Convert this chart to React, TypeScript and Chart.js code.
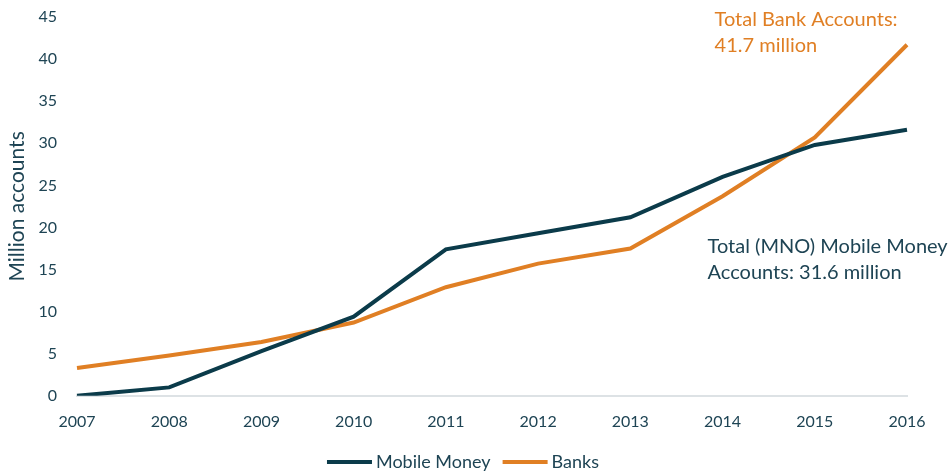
import React, { useEffect, useRef } from "react";
import { Chart, registerables } from "chart.js";

Chart.register(...registerables);

const years = ["2007", "2008", "2009", "2010", "2011", "2012", "2013", "2014", "2015", "2016"];
const mobileMoney = [0, 1.0, 5.3, 9.4, 17.4, 19.3, 21.2, 26.0, 29.8, 31.6];
const banks = [3.3, 4.8, 6.4, 8.7, 12.9, 15.7, 17.5, 23.7, 30.7, 41.7];
const bankNote = ["Total Bank Accounts:", "41.7 million"];
const mobileNote = ["Total (MNO) Mobile Money", "Accounts: 31.6 million"];

const TEAL = "#0B3B4A";
const ORANGE = "#E07F24";
const TEXT = "#1E4454";
const FONT = "Lato, 'Open Sans', sans-serif";

const notesPlugin = {
  id: "notes",
  afterDatasetsDraw(chart: any) {
    const { ctx, scales } = chart;
    const xs = scales.x;
    const ys = scales.y;
    ctx.save();
    ctx.font = `20px ${FONT}`;
    ctx.textAlign = "left";
    ctx.textBaseline = "middle";
    const bx = xs.getPixelForValue(7) - 8;
    const by = ys.getPixelForValue(45) + 3;
    ctx.fillStyle = ORANGE;
    bankNote.forEach((t, i) => ctx.fillText(t, bx, by + i * 26));
    const mx = xs.getPixelForValue(7) - 15;
    const my = ys.getPixelForValue(17.7);
    ctx.fillStyle = TEXT;
    mobileNote.forEach((t, i) => ctx.fillText(t, mx, my + i * 26));

    // custom legend
    ctx.font = `18px ${FONT}`;
    const items = chart.data.datasets.map((d: any) => ({ label: d.label, color: d.borderColor }));
    const boxW = 45;
    const gapText = 4;
    const gapItem = 12;
    const widths = items.map((it: any) => boxW + gapText + ctx.measureText(it.label).width);
    const total = widths.reduce((a: number, b: number) => a + b, 0) + gapItem * (items.length - 1);
    let x = chart.width / 2 - 12 - total / 2;
    const y = chart.height - 10;
    items.forEach((it: any, i: number) => {
      ctx.fillStyle = it.color;
      ctx.fillRect(x, y - 2, boxW, 4);
      ctx.fillStyle = TEXT;
      ctx.fillText(it.label, x + boxW + gapText, y);
      x += widths[i] + gapItem;
    });
    ctx.restore();
  },
};

export default function App() {
  const ref = useRef<HTMLCanvasElement | null>(null);
  useEffect(() => {
    document.body.style.margin = "0";
    const chart = new Chart(ref.current!, {
      type: "line",
      data: {
        labels: years,
        datasets: [
          {
            label: "Mobile Money",
            data: mobileMoney,
            borderColor: TEAL,
            backgroundColor: TEAL,
            borderWidth: 4,
            pointRadius: 0,
            tension: 0,
          },
          {
            label: "Banks",
            data: banks,
            borderColor: ORANGE,
            backgroundColor: ORANGE,
            borderWidth: 4,
            pointRadius: 0,
            tension: 0,
          },
        ],
      },
      options: {
        animation: false,
        responsive: false,
        maintainAspectRatio: false,
        layout: { padding: { top: 17, right: 43, bottom: 25, left: 0 } },
        plugins: {
          tooltip: { enabled: false },
          legend: { display: false },
        },
        scales: {
          x: {
            offset: false,
            grid: { display: false, drawTicks: false },
            border: { display: true, color: "#DDE2E5", width: 2 },
            ticks: { color: TEXT, font: { family: FONT, size: 16 }, padding: 16, maxRotation: 0 },
          },
          y: {
            min: 0,
            max: 45,
            grid: { display: false, drawTicks: false },
            border: { display: false },
            ticks: { stepSize: 5, color: TEXT, font: { family: FONT, size: 16 }, padding: 20 },
            title: {
              display: true,
              text: "Million accounts",
              color: TEXT,
              font: { family: FONT, size: 21 },
              padding: { top: 5, bottom: 6 },
            },
            afterFit(scale: any) {
              scale.width = 77;
              scale.paddingTop = 0;
              scale.paddingBottom = 0;
            },
          },
        },
      },
      plugins: [notesPlugin],
    });
    return () => chart.destroy();
  }, []);
  return (
    <div style={{ width: 950, height: 472 }}>
      <canvas ref={ref} width={950} height={472} style={{ width: 950, height: 472 }} />
    </div>
  );
}
